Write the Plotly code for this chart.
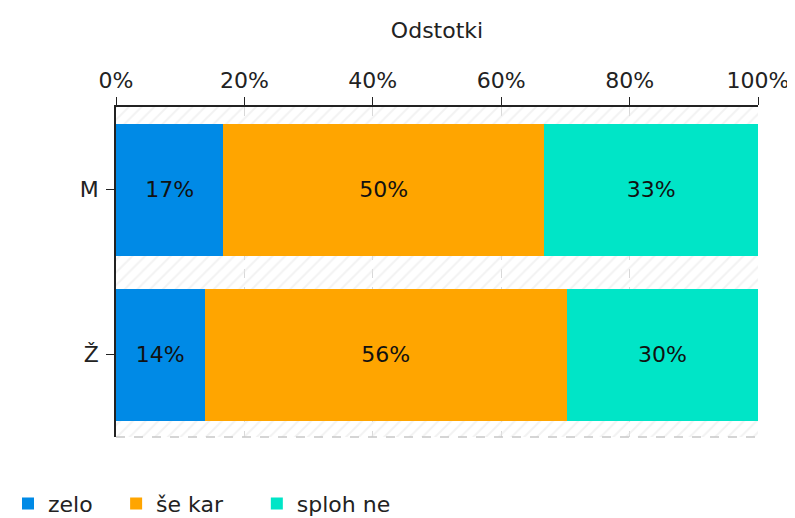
import plotly.graph_objects as go

groups = ['M', 'Ž']
series = ['zelo', 'še kar', 'sploh ne']
values = {
    'zelo': [16.7, 13.8],
    'še kar': [50.0, 56.4],
    'sploh ne': [33.3, 29.8],
}
colors = {'zelo': '#008ae6', 'še kar': '#ffa500', 'sploh ne': '#00e5c7'}
tick_vals = [0, 20, 40, 60, 80, 100]
tick_text = ['0%', '20%', '40%', '60%', '80%', '100%']

font = 'DejaVu Sans, Verdana, sans-serif'

fig = go.Figure()

# hatched plot background
fig.add_trace(go.Bar(
    x=[100], y=[0.5], width=[1], orientation='h',
    xaxis='x', yaxis='y',
    marker=dict(color='rgba(0,0,0,0)', line_width=0,
                pattern=dict(shape='/', fgcolor='#e6e6e6', bgcolor='rgba(255,255,255,0)',
                             size=9, solidity=0.22)),
    showlegend=False, hoverinfo='skip',
))

# one legend per series so the entries can sit where the original has them
legend_ids = ['legend', 'legend2', 'legend3']
legend_x = [-0.027, 0.136, 0.313]

for s, lg in zip(series, legend_ids):
    fig.add_trace(go.Bar(
        name=s, x=values[s], y=groups, orientation='h',
        xaxis='x', yaxis='y2', legend=lg,
        marker=dict(color=colors[s], line_width=0),
        texttemplate='%{x:.0f}%', textposition='inside', insidetextanchor='middle',
        textfont=dict(color='#111111', size=22, family=font),
    ))

legend_style = dict(
    orientation='h', xref='container', yref='container',
    y=0.043, xanchor='left', yanchor='middle', font=dict(size=22),
)

fig.update_layout(
    width=795, height=518,
    margin=dict(l=108, r=45, t=99, b=89),
    paper_bgcolor='white', plot_bgcolor='white',
    font=dict(family=font, size=22, color='#222222'),
    barmode='stack', bargap=0.2,
    xaxis=dict(
        range=[0, 100], side='top', tickvals=tick_vals, ticktext=tick_text,
        showline=True, linecolor='#222222', linewidth=1.5,
        ticks='outside', ticklen=8, tickcolor='#222222',
        showgrid=True, gridcolor='#d8d8d8', griddash='dash', gridwidth=1,
        zeroline=False,
        title=dict(text='Odstotki', font=dict(size=22), standoff=24),
    ),
    yaxis=dict(range=[0, 1], visible=False, fixedrange=True),
    yaxis2=dict(
        overlaying='y', side='left', autorange='reversed', type='category',
        showline=True, linecolor='#222222', linewidth=1.5,
        ticks='outside', ticklen=8, tickcolor='#222222', ticklabelstandoff=3,
        showgrid=False, zeroline=False, tickfont=dict(size=22),
    ),
    legend=dict(legend_style, x=legend_x[0]),
    legend2=dict(legend_style, x=legend_x[1]),
    legend3=dict(legend_style, x=legend_x[2]),
    shapes=[dict(type='line', xref='paper', yref='paper', x0=0, x1=1, y0=0, y1=0,
                 line=dict(color='#c8c8c8', width=1.5, dash='dash'))],
)

fig.write_html('out.html')
